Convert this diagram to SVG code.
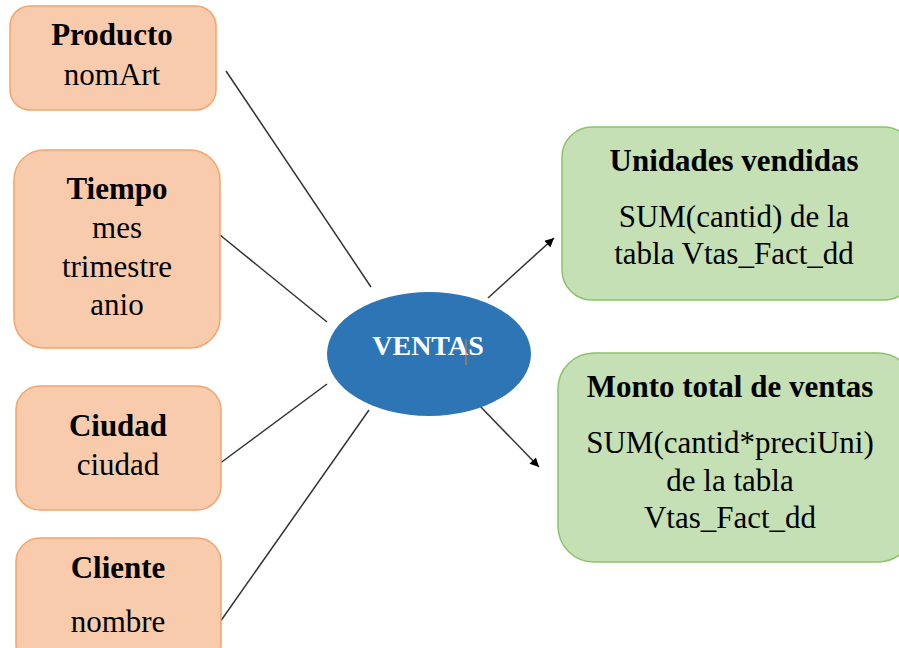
<svg xmlns="http://www.w3.org/2000/svg" width="899" height="648" viewBox="0 0 899 648">
<defs>
<marker id="arr" viewBox="0 0 10 10" refX="10" refY="5" markerWidth="10" markerHeight="9" markerUnits="userSpaceOnUse" orient="auto">
<path d="M0,0 L10,5 L0,10 z" fill="#000"/>
</marker>
<style>
.dim{fill:#f8cbad;stroke:#f4a46c;stroke-width:1.5}
.mea{fill:#c5e0b4;stroke:#8cc26a;stroke-width:1.5}
text{font-family:"Liberation Serif","Times New Roman",serif;font-size:31px;fill:#000;text-anchor:middle}
.b{font-weight:bold;font-size:31px}
.ln{stroke:#333;stroke-width:1.5;fill:none}
</style>
</defs>
<rect width="899" height="648" fill="#fff"/>
<g id="connectors">
<line class="ln" x1="226" y1="71" x2="371" y2="287"/>
<line class="ln" x1="220" y1="235" x2="327" y2="322"/>
<line class="ln" x1="219" y1="464" x2="327" y2="384"/>
<line class="ln" x1="220" y1="622" x2="369" y2="410"/>
<line class="ln" x1="488" y1="298" x2="554" y2="238" marker-end="url(#arr)"/>
<line class="ln" x1="477" y1="403" x2="539" y2="467" marker-end="url(#arr)"/>
</g>
<g id="producto">
<rect class="dim" x="10" y="6" width="206" height="104" rx="20"/>
<text class="b" x="112" y="45">Producto</text>
<text x="112" y="85">nomArt</text>
</g>
<g id="tiempo">
<rect class="dim" x="14" y="150" width="206" height="198" rx="30"/>
<text class="b" x="117" y="199">Tiempo</text>
<text x="117" y="238">mes</text>
<text x="117" y="277">trimestre</text>
<text x="117" y="315">anio</text>
</g>
<g id="ciudad">
<rect class="dim" x="16" y="386" width="205" height="124" rx="24"/>
<text class="b" x="118" y="436">Ciudad</text>
<text x="118" y="475">ciudad</text>
</g>
<g id="cliente">
<rect class="dim" x="16" y="538" width="205" height="130" rx="24"/>
<text class="b" x="118" y="578">Cliente</text>
<text x="118" y="632">nombre</text>
</g>
<g id="ventas">
<ellipse cx="429" cy="354" rx="102" ry="62" fill="#2e75b6"/>
<text class="b" x="428" y="355" style="font-size:28px;fill:#fff">VENTAS</text>
<line x1="466" y1="339" x2="466" y2="365" stroke="#ed7d31" stroke-width="1"/>
</g>
<g id="unidades">
<rect class="mea" x="562" y="127" width="352" height="173" rx="30"/>
<text class="b" x="734" y="171">Unidades vendidas</text>
<text x="734" y="227">SUM(cantid) de la</text>
<text x="734" y="264">tabla Vtas_Fact_dd</text>
</g>
<g id="monto">
<rect class="mea" x="558" y="353" width="356" height="209" rx="36"/>
<text class="b" x="730" y="397">Monto total de ventas</text>
<text x="730" y="453">SUM(cantid*preciUni)</text>
<text x="730" y="491">de la tabla</text>
<text x="730" y="528">Vtas_Fact_dd</text>
</g>
</svg>
